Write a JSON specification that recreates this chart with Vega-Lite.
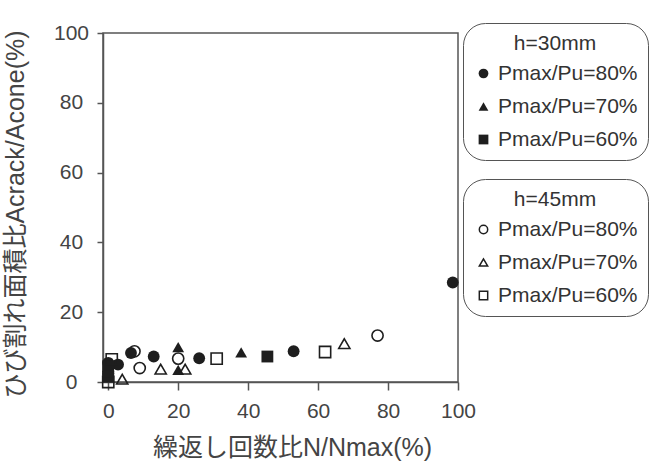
{
  "$schema": "https://vega.github.io/schema/vega-lite/v6.json",
  "autosize": {"type": "none"},
  "width": 355,
  "height": 349,
  "padding": {"left": 103, "top": 33, "right": 200, "bottom": 88},
  "background": "white",
  "config": {
    "font": "Liberation Sans, 'Noto Sans CJK JP'",
    "view": {"stroke": "#555", "strokeWidth": 1.5},
    "axis": {"grid": false, "domainColor": "#555", "domainWidth": 1.5, "tickColor": "#555", "tickWidth": 1.5, "labelColor": "#444", "titleColor": "#444", "labelFontSize": 21, "titleFontSize": 25, "titleFontWeight": "normal", "labelFont": "Liberation Sans", "titleFont": "Liberation Sans, 'Noto Sans CJK JP'"},
    "legend": {"labelFontSize": 21, "titleFontSize": 21, "titleFontWeight": "normal", "labelColor": "#333", "titleColor": "#333", "strokeColor": "#555", "cornerRadius": 22, "padding": 10, "rowPadding": 11, "titlePadding": 9, "titleAnchor": "middle", "labelFont": "Liberation Sans", "titleFont": "Liberation Sans"}
  },
  "datasets": {
    "pts": [
      {"h": "30", "p": "Pmax/Pu=80%", "n": 98.5, "a": 28.5},
      {"h": "30", "p": "Pmax/Pu=80%", "n": 53, "a": 8.8},
      {"h": "30", "p": "Pmax/Pu=80%", "n": 26, "a": 6.8},
      {"h": "30", "p": "Pmax/Pu=80%", "n": 13, "a": 7.3},
      {"h": "30", "p": "Pmax/Pu=80%", "n": 6.5, "a": 8.3},
      {"h": "30", "p": "Pmax/Pu=80%", "n": 0, "a": 5.5},
      {"h": "30", "p": "Pmax/Pu=80%", "n": 0, "a": 2.5},
      {"h": "30", "p": "Pmax/Pu=80%", "n": 2.8, "a": 5},
      {"h": "30", "p": "Pmax/Pu=70%", "n": 20, "a": 10},
      {"h": "30", "p": "Pmax/Pu=70%", "n": 38, "a": 8.5},
      {"h": "30", "p": "Pmax/Pu=70%", "n": 20, "a": 3.5},
      {"h": "30", "p": "Pmax/Pu=70%", "n": 0, "a": 3.5},
      {"h": "30", "p": "Pmax/Pu=60%", "n": 45.5, "a": 7.3},
      {"h": "30", "p": "Pmax/Pu=60%", "n": 0, "a": 4.5},
      {"h": "30", "p": "Pmax/Pu=60%", "n": 0, "a": 1.5},
      {"h": "45", "p": "Pmax/Pu=80%", "n": 77, "a": 13.3},
      {"h": "45", "p": "Pmax/Pu=80%", "n": 20, "a": 6.7},
      {"h": "45", "p": "Pmax/Pu=80%", "n": 9, "a": 4},
      {"h": "45", "p": "Pmax/Pu=80%", "n": 7.5, "a": 8.8},
      {"h": "45", "p": "Pmax/Pu=70%", "n": 67.5, "a": 11},
      {"h": "45", "p": "Pmax/Pu=70%", "n": 15, "a": 3.7},
      {"h": "45", "p": "Pmax/Pu=70%", "n": 22, "a": 3.7},
      {"h": "45", "p": "Pmax/Pu=70%", "n": 4, "a": 0.8},
      {"h": "45", "p": "Pmax/Pu=60%", "n": 62, "a": 8.6},
      {"h": "45", "p": "Pmax/Pu=60%", "n": 31, "a": 6.7},
      {"h": "45", "p": "Pmax/Pu=60%", "n": 0, "a": 0},
      {"h": "45", "p": "Pmax/Pu=60%", "n": 1, "a": 6.5}
    ]
  },
  "data": {"name": "pts"},
  "encoding": {
    "x": {"field": "n", "type": "quantitative", "scale": {"domain": [-1.5, 100], "nice": false, "zero": false},
      "axis": {"values": [0, 20, 40, 60, 80, 100], "title": "繰返し回数比N/Nmax(%)", "tickSize": 8, "labelPadding": 10, "titleX": 189, "titleY": 65, "titleBaseline": "middle", "labelFlush": false}},
    "y": {"field": "a", "type": "quantitative", "scale": {"domain": [0, 100], "nice": false},
      "axis": {"values": [0, 20, 40, 60, 80, 100], "title": "ひび割れ面積比Acrack/Acone(%)", "tickSize": 6, "labelPadding": 26, "labelAlign": "center", "labelBaseline": "middle", "titleX": -88, "titleY": 181, "titleAngle": -90, "titleBaseline": "middle", "titleAlign": "center", "labelFlush": false}}
  },
  "layer": [
    {
      "transform": [{"filter": "datum.h == '30'"}],
      "mark": {"type": "point", "filled": true, "color": "#1e1e1e", "opacity": 1, "size": 140, "clip": false},
      "encoding": {
        "shape": {"field": "p", "type": "nominal",
          "scale": {"domain": ["Pmax/Pu=80%", "Pmax/Pu=70%", "Pmax/Pu=60%"], "range": ["circle", "triangle-up", "square"]},
          "legend": {"title": "h=30mm", "orient": "none", "legendX": 360, "legendY": -10, "symbolSize": 95}}
      }
    },
    {
      "transform": [{"filter": "datum.h == '45'"}],
      "mark": {"type": "point", "filled": false, "color": "#1e1e1e", "strokeWidth": 1.6, "opacity": 1, "size": 125, "clip": false},
      "encoding": {
        "shape": {"field": "p", "type": "nominal",
          "scale": {"domain": ["Pmax/Pu=80%", "Pmax/Pu=70%", "Pmax/Pu=60%"], "range": ["circle", "triangle-up", "square"]},
          "legend": {"title": "h=45mm", "orient": "none", "legendX": 360, "legendY": 146, "symbolSize": 70, "symbolStrokeWidth": 1.5}}
      }
    }
  ],
  "resolve": {"scale": {"shape": "independent"}, "legend": {"shape": "independent"}}
}
